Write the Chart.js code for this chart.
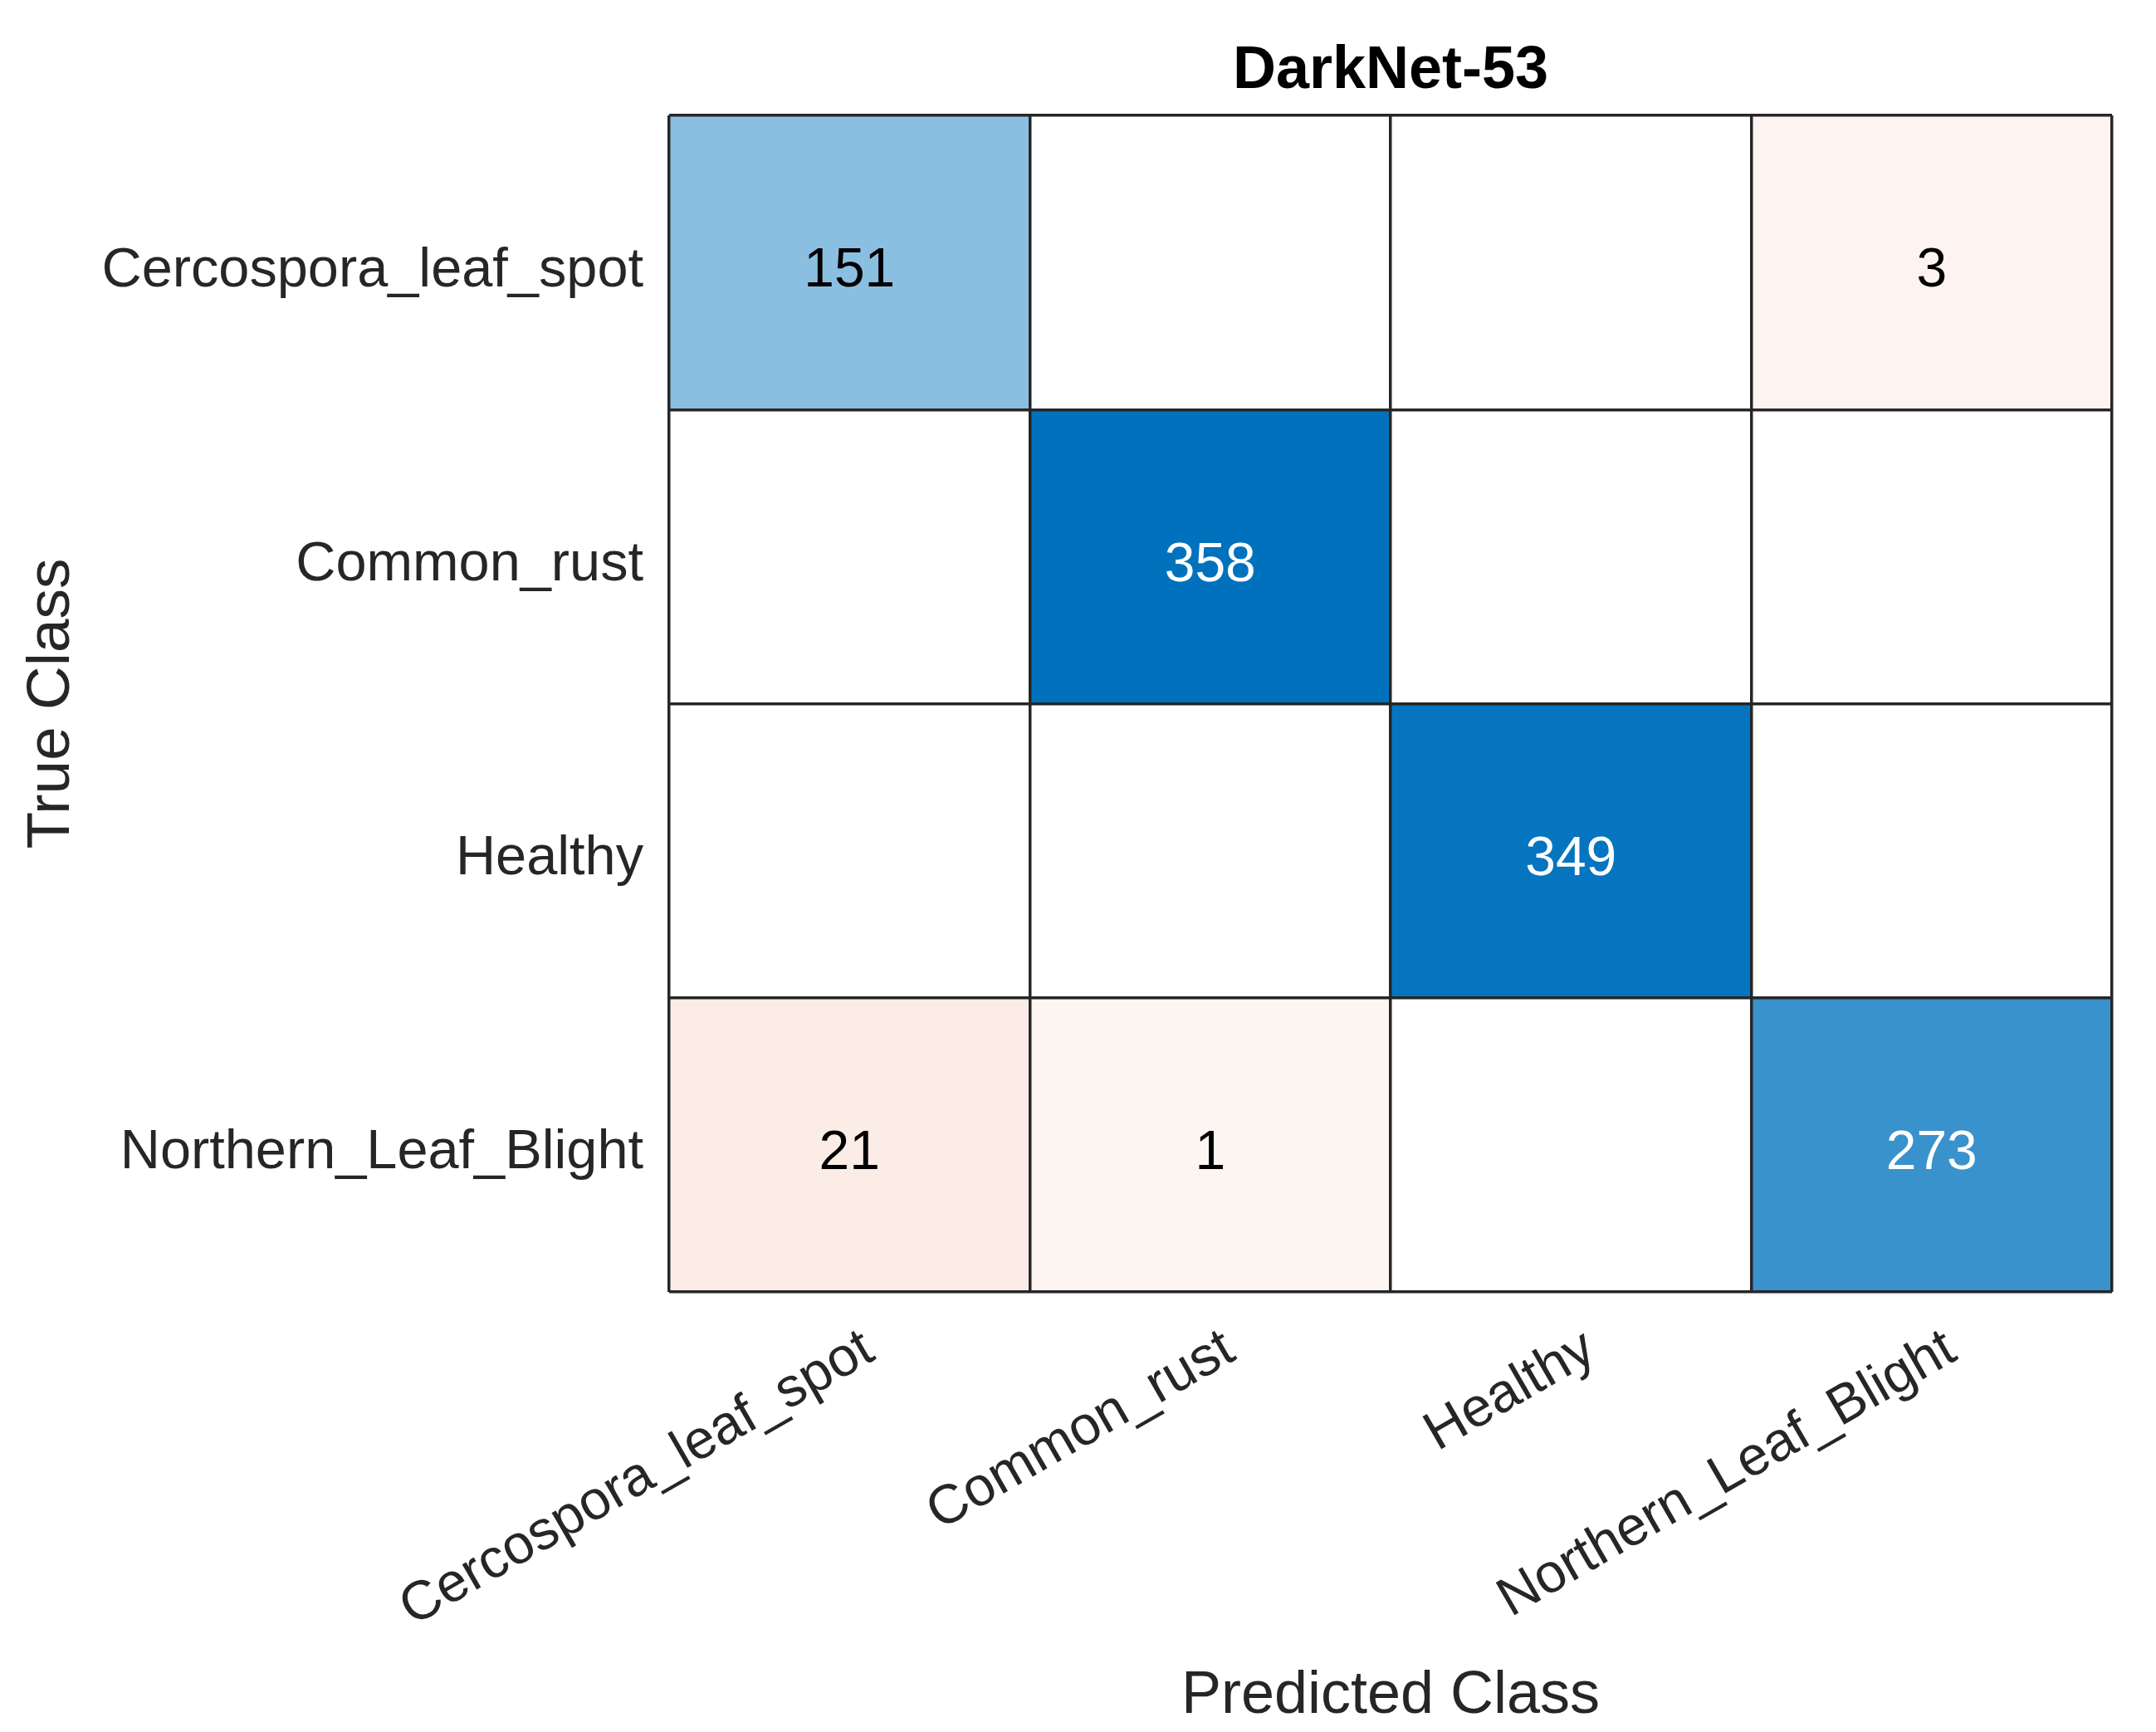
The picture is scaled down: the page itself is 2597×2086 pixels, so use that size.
<!DOCTYPE html>
<html>
<head>
<meta charset="utf-8">
<script src="https://cdn.jsdelivr.net/npm/chart.js@4.4.1/dist/chart.umd.min.js"></script>
<style>
  html, body { margin: 0; padding: 0; background: #fff; }
  canvas { display: block; }
</style>
</head>
<body>
<canvas id="cm" width="2597" height="2086" style="width:2597px;height:2086px"></canvas>
<script>
const chartTitle = "DarkNet-53";
const classNames = ["Cercospora_leaf_spot", "Common_rust", "Healthy", "Northern_Leaf_Blight"];

// one row per true class, columns are predicted classes
const rowCercospora = [151, 0, 0, 3];
const rowCommonRust = [0, 358, 0, 0];
const rowHealthy = [0, 0, 349, 0];
const rowNorthern = [21, 1, 0, 273];

const rows = [rowCercospora, rowCommonRust, rowHealthy, rowNorthern];
const maxCount = Math.max(...rows.flat());

const font = "'Liberation Sans', Arial, Helvetica, sans-serif";
const ink = "#262626";

function cellColor(value, r, c) {
    if (!value) return "#ffffff";
    const base = r === c ? [0, 114, 189] : [217, 83, 25];
    const t = 0.055 + 0.945 * value / maxCount;
    const mix = base.map(b => Math.round(255 + (b - 255) * t));
    return `rgb(${mix[0]},${mix[1]},${mix[2]})`;
}

const datasets = rows.map((row, r) => ({
    label: classNames[r],
    data: row.map(() => [r, r + 1]),
    counts: row,
    backgroundColor: row.map((v, c) => cellColor(v, r, c)),
    borderWidth: 0,
    barPercentage: 1.0,
    categoryPercentage: 1.0,
    grouped: false,
    xAxisID: "x",
    yAxisID: "y"
}));

const cellText = {
    id: "cellText",
    afterDatasetsDraw(chart) {
        const ctx = chart.ctx;
        ctx.save();
        ctx.font = `66px ${font}`;
        ctx.textAlign = "center";
        ctx.textBaseline = "middle";
        chart.data.datasets.forEach((ds, r) => {
            chart.getDatasetMeta(r).data.forEach((bar, c) => {
                const v = ds.counts[c];
                if (!v) return;
                const dark = r === c && v / maxCount > 0.5;
                ctx.fillStyle = dark ? "#ffffff" : "#000000";
                ctx.fillText(String(v), bar.x, (bar.y + bar.base) / 2 + 11);
            });
        });
        ctx.restore();
    }
};

new Chart(document.getElementById("cm").getContext("2d"), {
    type: "bar",
    data: { labels: classNames, datasets: datasets },
    plugins: [cellText],
    options: {
        responsive: false,
        devicePixelRatio: 1,
        animation: false,
        layout: { padding: { left: 0, right: 53, top: 0, bottom: 0 } },
        plugins: { legend: { display: false }, tooltip: { enabled: false } },
        scales: {
            x: {
                type: "category",
                position: "bottom",
                offset: true,
                grid: { offset: true, color: ink, lineWidth: 3.5, drawTicks: false, z: 1 },
                border: { display: false },
                ticks: {
                    color: ink,
                    font: { family: font, size: 66 },
                    minRotation: 30,
                    maxRotation: 30,
                    autoSkip: false,
                    padding: 30,
                    labelOffset: 24
                },
                title: {
                    display: true,
                    text: "Predicted Class",
                    color: ink,
                    font: { family: font, size: 72 },
                    padding: { top: 0, bottom: 0 }
                },
                afterFit: s => { s.height = 530; }
            },
            xTop: {
                type: "category",
                position: "top",
                grid: { display: false },
                border: { display: false },
                ticks: { display: false },
                title: {
                    display: true,
                    text: chartTitle,
                    color: "#000000",
                    font: { family: font, size: 72, weight: "bold" },
                    padding: { top: 43, bottom: 0 }
                },
                afterFit: s => { s.height = 139; }
            },
            y: {
                type: "linear",
                position: "left",
                min: 0,
                max: 4,
                reverse: true,
                grid: { display: false },
                border: { display: false },
                afterBuildTicks: s => { s.ticks = [0.5, 1.5, 2.5, 3.5].map(v => ({ value: v })); },
                ticks: {
                    color: ink,
                    font: { family: font, size: 66.7 },
                    padding: 23,
                    labelOffset: 10,
                    callback: v => classNames[Math.floor(v)]
                },
                title: {
                    display: true,
                    text: "True Class",
                    color: ink,
                    font: { family: font, size: 73 },
                    padding: { top: 19, bottom: 0 }
                },
                afterFit: s => { s.width = 806; }
            },
            yGrid: {
                type: "linear",
                position: "left",
                min: 0,
                max: 4,
                reverse: true,
                grid: { color: ink, lineWidth: 3.5, drawTicks: false, z: 1 },
                border: { display: false },
                ticks: { display: false, stepSize: 1 },
                afterFit: s => { s.width = 0; }
            }
        }
    }
});
</script>
</body>
</html>
